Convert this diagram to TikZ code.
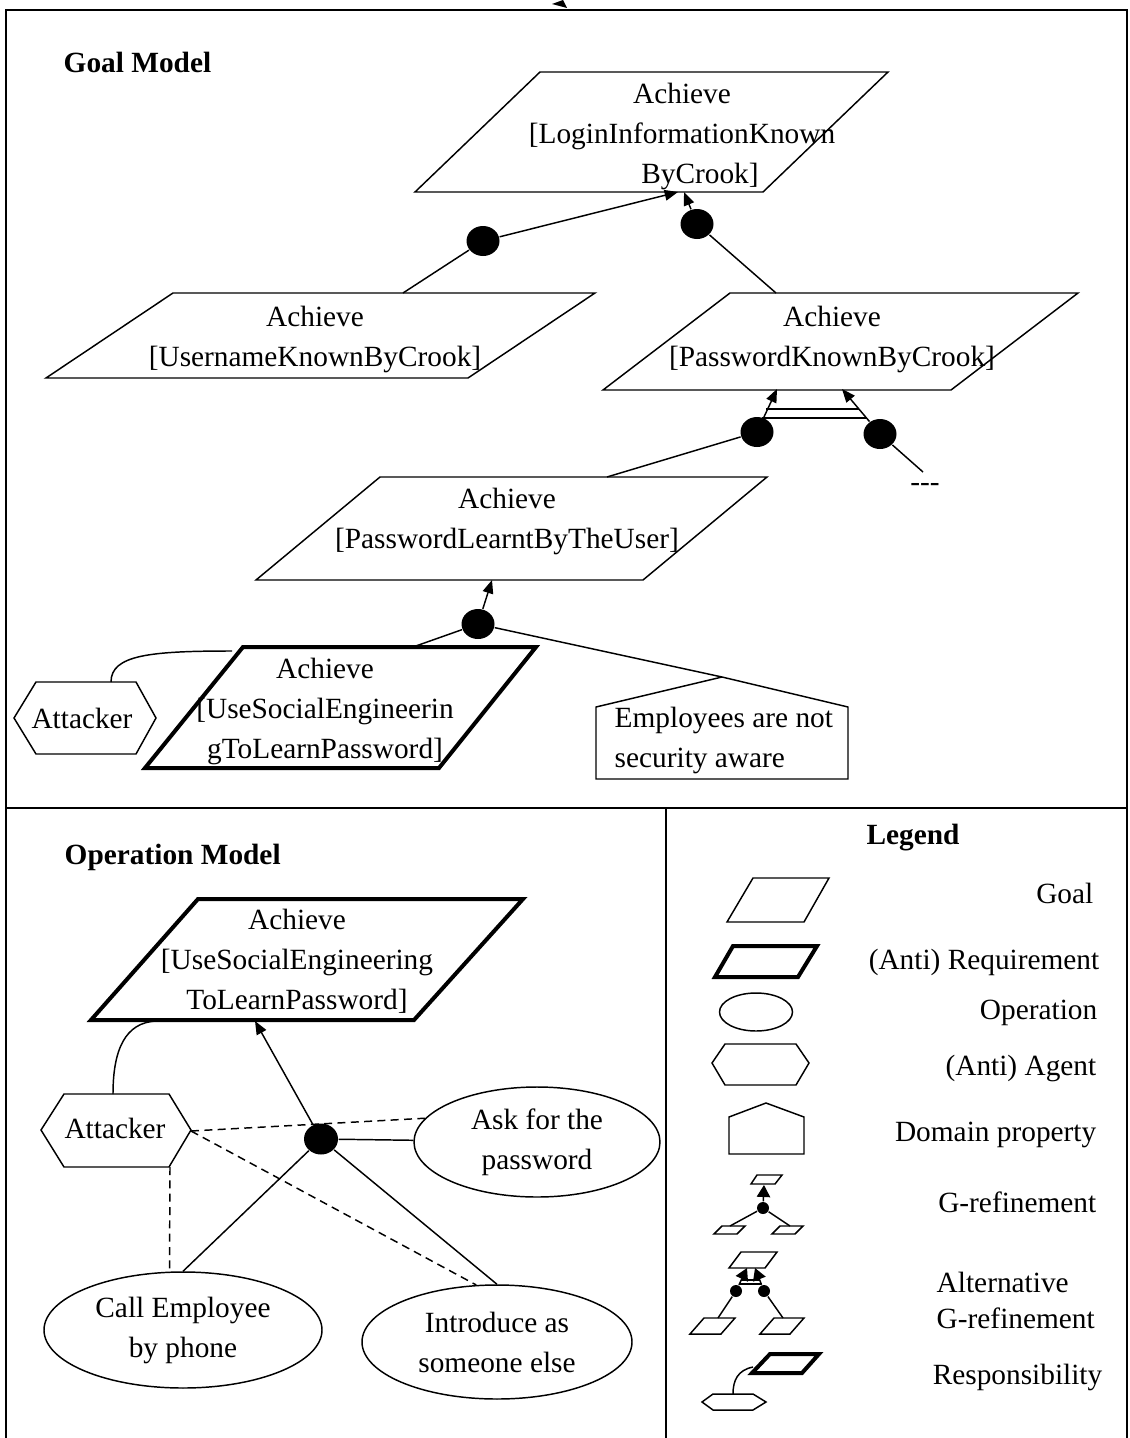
\documentclass[tikz,border=0pt]{standalone}
\usepackage{fontspec}
\setmainfont{Liberation Serif}
\usetikzlibrary{shapes.geometric,arrows.meta,calc}
\begin{document}
\begin{tikzpicture}[x=0.75pt,y=-0.75pt,
  line width=1.1pt,
  txt/.style={inner sep=0pt, align=center, font=\fontsize{22}{30}\selectfont},
  hdr/.style={inner sep=0pt, font=\fontsize{22}{30}\selectfont\bfseries},
  refdot/.style={ellipse, fill, inner sep=0pt, minimum width=24.75pt, minimum height=22.5pt},
  sdot/.style={circle, fill, inner sep=0pt, minimum size=9pt},
  op/.style={ellipse, draw, inner sep=0pt, align=center, font=\fontsize{22}{30}\selectfont},
  arr/.style={-{Triangle[length=10pt,width=8pt]}},
  sarr/.style={-{Triangle[length=9pt,width=10pt]}},
  req/.style={line width=3pt},
  bordline/.style={line width=1.5pt},
  dsh/.style={dash pattern=on 6pt off 4pt},
]
\useasboundingbox (0,0) rectangle (1130,1438);
% frame
\draw[bordline] (6,1438) -- (6,10) -- (1127,10) -- (1127,1438);
\draw[bordline] (6,808) -- (1127,808);
\draw[bordline] (666,808) -- (666,1438);
\fill (552,4) -- (563,0) -- (567,8) -- cycle;

% ---------------- Goal model
\node[hdr, anchor=west] (gmlabel) at (63,62) {Goal Model};

\draw (540,72) -- (888,72) -- (763,192) -- (415,192) -- cycle;
\node[txt] (g1) at (682,136) {Achieve\\{[}LoginInformationKnown\\\hspace*{27pt}ByCrook{]}};
\coordinate (g1b1) at (678,192);
\coordinate (g1b2) at (684,192);

\draw (173,293) -- (595,293) -- (468,378) -- (46,378) -- cycle;
\node[txt] (g2) at (315,339) {Achieve\\{[}UsernameKnownByCrook{]}};
\coordinate (g2t) at (403,293);

\draw (730,293) -- (1078,293) -- (951,390) -- (603,390) -- cycle;
\node[txt] (g3) at (832,339) {Achieve\\{[}PasswordKnownByCrook{]}};
\coordinate (g3t) at (776,293);
\coordinate (g3bA) at (777,389);
\coordinate (g3bB) at (842,389);

\node[refdot] (d1) at (483,241) {};
\node[refdot] (d2) at (697,224) {};
\draw[arr] (d1) -- (g1b1);
\draw (d1) -- (g2t);
\draw[arr] (d2) -- (g1b2);
\draw (d2) -- (g3t);

% alternative refinement
\node[refdot] (dA) at (757,432) {};
\node[refdot] (dB) at (880,434) {};
\draw[arr] (dA) -- (g3bA);
\draw[arr] (dB) -- (g3bB);
\draw (766,409) -- (859,409);
\draw (762,418) -- (866,418);
\node[txt] (dashes) at (925,487) {-{}-{}-};
\coordinate (dashend) at (923,472);
\draw (dB) -- (dashend);

\draw (380,477) -- (767,477) -- (643,580) -- (256,580) -- cycle;
\node[txt] (g4) at (507,521) {Achieve\\{[}PasswordLearntByTheUser{]}};
\coordinate (g4t) at (607,477);
\coordinate (g4b) at (492,580);
\draw (dA) -- (g4t);

\node[refdot] (dC) at (478,624) {};
\draw[arr] (dC) -- (g4b);
\coordinate (g5t) at (413,647);
\draw (dC) -- (g5t);

\draw (596,707) -- (722,677) -- (848,707) -- (848,779) -- (596,779) -- cycle;
\coordinate (dpt) at (722,677);
\node[txt, align=left, anchor=west] (dp) at (614,740) {Employees are not\\security aware};
\draw (dC) -- (dpt);

\draw[req] (243,647) -- (536,647) -- (439,768) -- (145,768) -- cycle;
\node[txt] (g5) at (325,711) {Achieve\\{[}UseSocialEngineerin\\gToLearnPassword{]}};

\draw (14,718) -- (36,682) -- (136,682) -- (156,718) -- (136,754) -- (36,754) -- cycle;
\node[txt] (att1) at (82,718) {Attacker};
\coordinate (att1t) at (111,682);
\coordinate (g5l) at (232,651);
\draw (att1t) .. controls (111,655) and (150,651) .. (g5l);

% ---------------- Operation model
\node[hdr, anchor=west] (omlabel) at (64,857) {Operation Model};

\draw[req] (198,899) -- (523,899) -- (414,1020) -- (91,1020) -- cycle;
\node[txt] (g6) at (297,961) {Achieve\\{[}UseSocialEngineering\\ToLearnPassword{]}};
\coordinate (g6b) at (255,1021);
\coordinate (g6r) at (157,1021);

\draw (41,1130) -- (64,1094) -- (169,1094) -- (191,1130) -- (169,1167) -- (64,1167) -- cycle;
\node[txt] (att2) at (115,1128) {Attacker};
\coordinate (att2t) at (113,1094);
\coordinate (att2r) at (191,1131);
\coordinate (att2b) at (170,1167);
\draw (g6r) .. controls (125,1022) and (113,1050) .. (att2t);

\node[refdot, minimum width=25.5pt, minimum height=23.25pt] (dD) at (321,1139) {};
\node[op, minimum width=184.5pt, minimum height=82.5pt] (e1) at (537,1142) {Ask for the\\password};
\node[op, minimum width=208.5pt, minimum height=87pt] (e2) at (183,1330) {Call Employee\\by phone};
\node[op, minimum width=202.5pt, minimum height=85.5pt] (e3) at (497,1342) {Introduce as\\someone else};

\draw[arr] (dD) -- (g6b);
\draw (dD) -- (e1);
\draw (dD) -- (e2.north);
\draw (dD) -- (e3.north);
\draw[dsh] (att2r) -- (e1.168);
\draw[dsh] (att2r) -- (e3.110);
\draw[dsh] (att2b) -- (e2.103);

% ---------------- Legend
\node[hdr] (leg) at (913,838) {Legend};
\draw (753,878) -- (829,878) -- (804,922) -- (727,922) -- cycle;
\node[txt, anchor=east] (lgoal) at (1094,893) {Goal};
\draw[req] (733,946) -- (817,946) -- (798,977) -- (715,977) -- cycle;
\node[txt, anchor=east] (lreq) at (1100,962) {(Anti) Requirement};
\node[draw, ellipse, inner sep=0pt, minimum width=54.75pt, minimum height=28.5pt] (lop) at (756,1012) {};
\node[txt, anchor=east] (lopt) at (1098,1013) {Operation};
\draw (712,1063) -- (725,1044) -- (796,1044) -- (809,1063) -- (796,1085) -- (725,1085) -- cycle;
\node[txt, anchor=east] (lagt) at (1097,1068) {(Anti) Agent};
\draw (729,1117) -- (766,1103) -- (804,1117) -- (804,1154) -- (729,1154) -- cycle;
\node[txt, anchor=east] (ldpt) at (1097,1135) {Domain property};

% G-refinement icon
\draw (757,1175) -- (782,1175) -- (775,1184) -- (751,1184) -- cycle;
\node[sdot] (ld1) at (763,1208) {};
\coordinate (ltop) at (764,1185);
\draw[sarr] (ld1) -- (ltop);
\draw (722,1226) -- (745,1226) -- (737,1234) -- (714,1234) -- cycle;
\draw (780,1226) -- (803,1226) -- (795,1234) -- (772,1234) -- cycle;
\coordinate (lbl) at (730,1226);
\coordinate (lbr) at (790,1226);
\draw (ld1) -- (lbl);
\draw (ld1) -- (lbr);
\node[txt, anchor=east] (lgref) at (1097,1202) {G-refinement};

% Alternative icon
\draw (741,1252) -- (777,1252) -- (765,1268) -- (729,1268) -- cycle;
\node[sdot] (la1) at (736,1291) {};
\node[sdot] (la2) at (764,1291) {};
\coordinate (lat1) at (747,1268);
\coordinate (lat2) at (755,1268);
\draw[sarr] (la1) -- (lat1);
\draw[sarr] (la2) -- (lat2);
\draw[line width=0.8pt] (741,1280) -- (759,1280);
\draw[line width=0.8pt] (739,1284) -- (761,1284);
\coordinate (lab1) at (718,1318);
\coordinate (lab2) at (783,1318);
\draw (la1) -- (lab1);
\draw (la2) -- (lab2);
\draw (704,1318) -- (735,1318) -- (721,1334) -- (690,1334) -- cycle;
\draw (774,1318) -- (804,1318) -- (790,1334) -- (760,1334) -- cycle;
\node[txt, anchor=west, align=left, font=\fontsize{22}{27}\selectfont] (lalt) at (936,1300) {Alternative\\G-refinement};

% Responsibility icon
\draw[req] (770,1354) -- (819,1354) -- (802,1373) -- (752,1373) -- cycle;
\coordinate (lrs) at (753,1367);
\coordinate (lrh) at (733,1394);
\draw (lrs) .. controls (738,1370) and (733,1380) .. (lrh);
\draw (702,1402) -- (713,1394) -- (753,1394) -- (766,1402) -- (753,1410) -- (713,1410) -- cycle;
\node[txt, anchor=east] (lresp) at (1103,1377) {Responsibility};
\end{tikzpicture}
\end{document}
